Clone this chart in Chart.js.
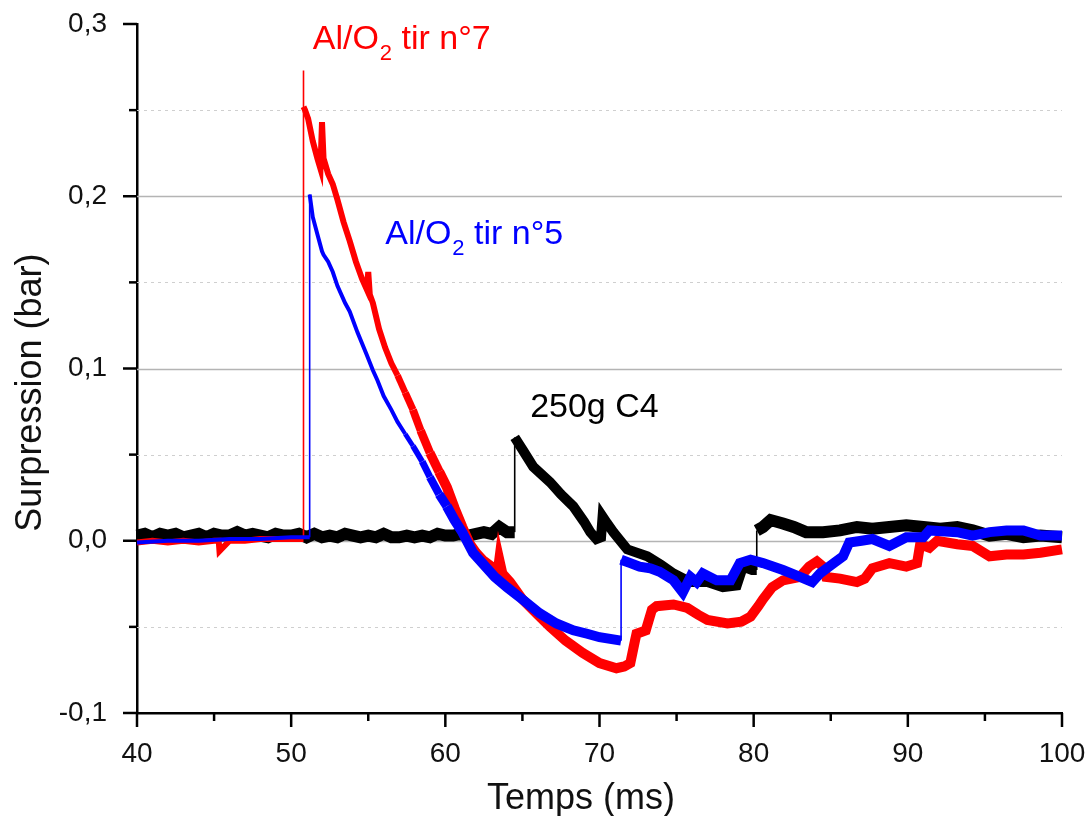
<!DOCTYPE html>
<html>
<head>
<meta charset="utf-8">
<script src="https://cdn.jsdelivr.net/npm/chart.js@4/dist/chart.umd.min.js"></script>
<style>
  html, body { margin: 0; padding: 0; background: #fff; }
  #wrap { width: 1090px; height: 816px; position: relative; }
</style>
</head>
<body>
<div id="wrap"><canvas id="mainChart" width="1090" height="816"></canvas></div>
<script>
    // time (ms) / overpressure (bar)
    const redT = [40, 41, 42, 43, 44, 45, 45.3, 45.35, 46, 47, 48, 49, 50, 50.8, 50.8, 50.8, 50.9, 51.1, 51.4, 51.7, 51.9, 52.0, 52.1, 52.4, 52.7, 53.0, 53.4, 53.8, 54.2, 54.6, 54.9, 55.0, 55.1, 55.3, 55.7, 56.1, 56.5, 56.9, 57.4, 57.9, 58.4, 59.0, 59.6, 60.1, 60.6, 61.1, 61.6, 62.0, 62.4, 63.0, 63.4, 63.5, 63.7, 64.2, 65.0, 66.0, 66.8, 67.8, 68.9, 70.0, 71.1, 71.6, 72.0, 72.3, 72.4, 73.0, 73.4, 73.7, 74.8, 75.7, 76.4, 77.0, 78.3, 79.2, 79.8, 80.3, 80.6, 81.2, 81.9, 83.0, 83.6, 84.1, 84.5, 84.7, 85.6, 86.7, 87.2, 87.7, 88.8, 89.9, 90.6, 90.8, 91.4, 91.9, 93.2, 94.2, 95.3, 96.4, 97.5, 98.6, 100];
    const redV = [-0.001, 0.000, -0.001, 0.000, -0.001, 0.000, 0.000, -0.006, 0.000, 0.000, 0.001, 0.001, 0.001, 0.001, 0.273, 0.252, 0.250, 0.245, 0.232, 0.222, 0.216, 0.243, 0.222, 0.213, 0.207, 0.198, 0.185, 0.174, 0.162, 0.152, 0.146, 0.156, 0.143, 0.138, 0.123, 0.112, 0.103, 0.096, 0.086, 0.076, 0.064, 0.051, 0.040, 0.031, 0.019, 0.008, -0.002, -0.007, -0.011, -0.015, -0.018, -0.011, -0.019, -0.024, -0.034, -0.043, -0.050, -0.058, -0.065, -0.071, -0.074, -0.073, -0.071, -0.058, -0.054, -0.052, -0.040, -0.038, -0.037, -0.039, -0.043, -0.046, -0.048, -0.047, -0.044, -0.038, -0.034, -0.027, -0.023, -0.021, -0.015, -0.012, -0.015, -0.021, -0.022, -0.024, -0.022, -0.016, -0.013, -0.015, -0.013, -0.002, -0.004, 0.000, -0.002, -0.003, -0.009, -0.008, -0.008, -0.007, -0.005];

    const blueT = [40, 42, 44, 46, 48, 50, 51.2, 51.2, 51.4, 51.7, 52.0, 52.1, 52.4, 52.7, 53.0, 53.5, 53.8, 54.3, 54.9, 55.3, 55.6, 56.0, 56.5, 56.9, 57.4, 57.9, 58.5, 59.0, 59.6, 60.1, 60.6, 61.1, 61.8, 62.4, 63.2, 64.0, 65.0, 66.1, 67.2, 68.3, 69.2, 70.0, 71.4, 71.4, 72.0, 72.6, 73.3, 73.9, 74.8, 75.4, 75.9, 76.3, 76.7, 77.6, 78.5, 79.1, 79.8, 80.6, 81.9, 83.0, 83.8, 84.3, 84.9, 85.8, 86.2, 87.0, 87.7, 88.8, 89.9, 91.0, 91.4, 93.2, 94.2, 95.3, 96.4, 97.5, 98.6, 100];
    const blueV = [-0.001, 0.000, 0.000, 0.001, 0.001, 0.002, 0.002, 0.201, 0.188, 0.178, 0.168, 0.166, 0.162, 0.156, 0.148, 0.138, 0.133, 0.121, 0.108, 0.099, 0.093, 0.084, 0.076, 0.069, 0.062, 0.055, 0.046, 0.037, 0.027, 0.020, 0.012, 0.005, -0.007, -0.013, -0.021, -0.027, -0.034, -0.042, -0.048, -0.052, -0.054, -0.056, -0.058, -0.011, -0.013, -0.015, -0.016, -0.018, -0.023, -0.030, -0.021, -0.024, -0.019, -0.023, -0.023, -0.013, -0.011, -0.013, -0.017, -0.021, -0.024, -0.019, -0.015, -0.009, -0.001, 0.000, 0.001, -0.003, 0.002, 0.002, 0.006, 0.005, 0.003, 0.005, 0.006, 0.006, 0.003, 0.003];

    const blackT = [40, 40.5, 41, 41.5, 42, 42.5, 43, 43.5, 44, 44.5, 45, 45.5, 46, 46.5, 47, 47.5, 48, 48.5, 49, 49.5, 50, 50.5, 51, 51.5, 52, 52.5, 53, 53.5, 54, 54.5, 55, 55.5, 56, 56.5, 57, 57.5, 58, 58.5, 59, 59.5, 60, 60.5, 61, 61.5, 62, 62.5, 63, 63.5, 64.0, 64.5, 64.5, 65.0, 65.7, 66.8, 67.5, 68.3, 69.0, 69.4, 69.8, 70.1, 70.2, 70.5, 70.9, 71.8, 73.1, 74.0, 74.8, 75.9, 77.0, 78.0, 78.9, 79.3, 79.9, 80.2, 80.2, 80.6, 81.1, 81.9, 82.6, 83.4, 84.5, 85.6, 86.7, 87.7, 88.8, 89.9, 91.0, 92.1, 93.2, 94.2, 95.3, 96.4, 97.5, 98.6, 100];
    const blackV = [0.003, 0.004, 0.002, 0.004, 0.003, 0.004, 0.002, 0.003, 0.004, 0.002, 0.004, 0.003, 0.003, 0.005, 0.003, 0.004, 0.003, 0.002, 0.004, 0.003, 0.003, 0.004, 0.002, 0.004, 0.002, 0.003, 0.002, 0.004, 0.003, 0.002, 0.003, 0.002, 0.004, 0.002, 0.002, 0.003, 0.002, 0.003, 0.002, 0.004, 0.003, 0.003, 0.004, 0.003, 0.004, 0.005, 0.004, 0.008, 0.005, 0.005, 0.060, 0.053, 0.043, 0.034, 0.027, 0.020, 0.011, 0.005, 0.001, 0.002, 0.014, 0.010, 0.005, -0.005, -0.009, -0.014, -0.019, -0.024, -0.024, -0.027, -0.026, -0.015, -0.017, -0.017, 0.006, 0.008, 0.012, 0.010, 0.008, 0.005, 0.005, 0.006, 0.008, 0.007, 0.008, 0.009, 0.008, 0.007, 0.008, 0.006, 0.003, 0.004, 0.002, 0.003, 0.002];

    // axis ticks and reference lines
    const xMajor = [40, 50, 60, 70, 80, 90, 100];
    const xMinor = [45, 55, 65, 75, 85, 95];
    const yMajor = [-0.1, 0, 0.1, 0.2, 0.3];
    const yMinor = [-0.05, 0.05, 0.15, 0.25];
    const gridSolid = [0, 0.1, 0.2];
    const gridDotted = [-0.05, 0.05, 0.15, 0.25];

    // curve labels: [text before sub, subscript, text after, x (ms), y (bar), colour]
    const curveLabels = [
      ['Al/O', '2', ' tir n°7', 51.4, 0.2855, '#ff0000'],
      ['Al/O', '2', ' tir n°5', 56.1, 0.172, '#0000ff'],
      ['250g C4', '', '', 65.5, 0.0721, '#000000']
    ];
    const xTitle = 'Temps (ms)';
    const yTitle = 'Surpression (bar)';

    const FONT = "'Liberation Sans', Arial, sans-serif";

    function toPoints(ts, vs) {
      return ts.map((t, i) => ({ x: t, y: vs[i] }));
    }

    // thin stroke for the fast jumps, the noise band widens after the fast decay
    function segWidth(early, late, split) {
      return (ctx) => {
        const dx = ctx.p1.parsed.x - ctx.p0.parsed.x;
        if (dx === 0) return 1.6;
        const k = Math.min(Math.max((ctx.p0.parsed.x - split) / 3, 0), 1);
        return early + (late - early) * k;
      };
    }

    const axisDecor = {
      id: 'axisDecor',
      beforeDatasetsDraw(chart) {
        const { ctx, chartArea: a, scales } = chart;
        const y = scales.y;
        ctx.save();
        ctx.lineWidth = 1.5;
        ctx.strokeStyle = '#b4b4b4';
        gridSolid.forEach((v) => {
          const py = Math.round(y.getPixelForValue(v)) + 0.5;
          ctx.beginPath(); ctx.moveTo(a.left, py); ctx.lineTo(a.right, py); ctx.stroke();
        });
        ctx.lineWidth = 1.2;
        ctx.strokeStyle = '#cfcfcf';
        ctx.setLineDash([3, 4]);
        gridDotted.forEach((v) => {
          const py = Math.round(y.getPixelForValue(v)) + 0.5;
          ctx.beginPath(); ctx.moveTo(a.left, py); ctx.lineTo(a.right, py); ctx.stroke();
        });
        ctx.restore();
      },
      afterDraw(chart) {
        const { ctx, chartArea: a, scales } = chart;
        const x = scales.x, y = scales.y;
        ctx.save();
        ctx.strokeStyle = '#000';
        ctx.lineWidth = 2.5;
        yMajor.forEach((v) => {
          const py = y.getPixelForValue(v);
          ctx.beginPath(); ctx.moveTo(a.left - 14, py); ctx.lineTo(a.left, py); ctx.stroke();
        });
        yMinor.forEach((v) => {
          const py = y.getPixelForValue(v);
          ctx.beginPath(); ctx.moveTo(a.left - 8, py); ctx.lineTo(a.left, py); ctx.stroke();
        });
        xMajor.forEach((v) => {
          const px = x.getPixelForValue(v);
          ctx.beginPath(); ctx.moveTo(px, a.bottom); ctx.lineTo(px, a.bottom + 14); ctx.stroke();
        });
        xMinor.forEach((v) => {
          const px = x.getPixelForValue(v);
          ctx.beginPath(); ctx.moveTo(px, a.bottom); ctx.lineTo(px, a.bottom + 8); ctx.stroke();
        });

        // axis titles (sit a bit off-centre in the original)
        ctx.fillStyle = '#111';
        ctx.font = '36px ' + FONT;
        ctx.textAlign = 'center';
        ctx.textBaseline = 'alphabetic';
        ctx.fillText(xTitle, x.getPixelForValue(68.8), a.bottom + 96);
        ctx.save();
        ctx.translate(41, y.getPixelForValue(0.086));
        ctx.rotate(-Math.PI / 2);
        ctx.fillText(yTitle, 0, 0);
        ctx.restore();

        // curve labels with subscript
        ctx.textAlign = 'left';
        curveLabels.forEach(([pre, sub, post, lx, ly, col]) => {
          let px = x.getPixelForValue(lx);
          const py = y.getPixelForValue(ly);
          ctx.fillStyle = col;
          ctx.font = '34px ' + FONT;
          ctx.fillText(pre, px, py);
          px += ctx.measureText(pre).width;
          if (sub) {
            ctx.font = '22px ' + FONT;
            ctx.fillText(sub, px + 1, py + 11);
            px += ctx.measureText(sub).width + 1;
          }
          ctx.font = '34px ' + FONT;
          ctx.fillText(post, px, py);
        });
        ctx.restore();
      }
    };

    let mainChart;

    window.addEventListener('DOMContentLoaded', () => {
      const ctx = document.getElementById('mainChart').getContext('2d');

      mainChart = new Chart(ctx, {
        type: 'line',
        data: {
          datasets: [
            {
              label: 'Al/O2 tir n°5',
              data: toPoints(blueT, blueV),
              borderColor: '#0000ff',
              borderWidth: 10,
              segment: { borderWidth: segWidth(4, 10, 57) },
              pointRadius: 0,
              tension: 0
            },
            {
              label: 'Al/O2 tir n°7',
              data: toPoints(redT, redV),
              borderColor: '#ff0000',
              borderWidth: 10,
              segment: { borderWidth: segWidth(6, 10, 56.5) },
              pointRadius: 0,
              tension: 0
            },
            {
              label: '250g C4',
              data: toPoints(blackT, blackV),
              borderColor: '#000000',
              borderWidth: 12,
              segment: { borderWidth: (c) => (c.p1.parsed.x === c.p0.parsed.x ? 1.6 : (c.p0.parsed.x > 64.4 && c.p0.parsed.x < 80 ? 10 : 12)) },
              pointRadius: 0,
              tension: 0
            }
          ]
        },
        options: {
          responsive: false,
          animation: false,
          clip: false,
          layout: { padding: { top: 24, right: 28, left: 0, bottom: 0 } },
          plugins: {
            legend: { display: false },
            tooltip: { enabled: false }
          },
          scales: {
            x: {
              type: 'linear',
              min: 40,
              max: 100,
              afterFit: (s) => { s.height = 103; s.paddingLeft = 0; s.paddingRight = 0; },
              grid: { display: false },
              border: { display: true, color: '#000', width: 2.5 },
              ticks: {
                stepSize: 10,
                padding: 16,
                color: '#111',
                font: { family: FONT, size: 28 },
                callback: (v) => String(v)
              },
              title: { display: false }
            },
            y: {
              min: -0.1,
              max: 0.3,
              afterFit: (s) => { s.width = 137; s.paddingTop = 0; s.paddingBottom = 0; },
              grid: { display: false },
              border: { display: true, color: '#000', width: 2.5 },
              ticks: {
                stepSize: 0.1,
                padding: 22,
                color: '#111',
                font: { family: FONT, size: 28 },
                callback: (v) => v.toFixed(1).replace('.', ',')
              },
              title: { display: false }
            }
          }
        },
        plugins: [axisDecor]
      });
    });
</script>
</body>
</html>
